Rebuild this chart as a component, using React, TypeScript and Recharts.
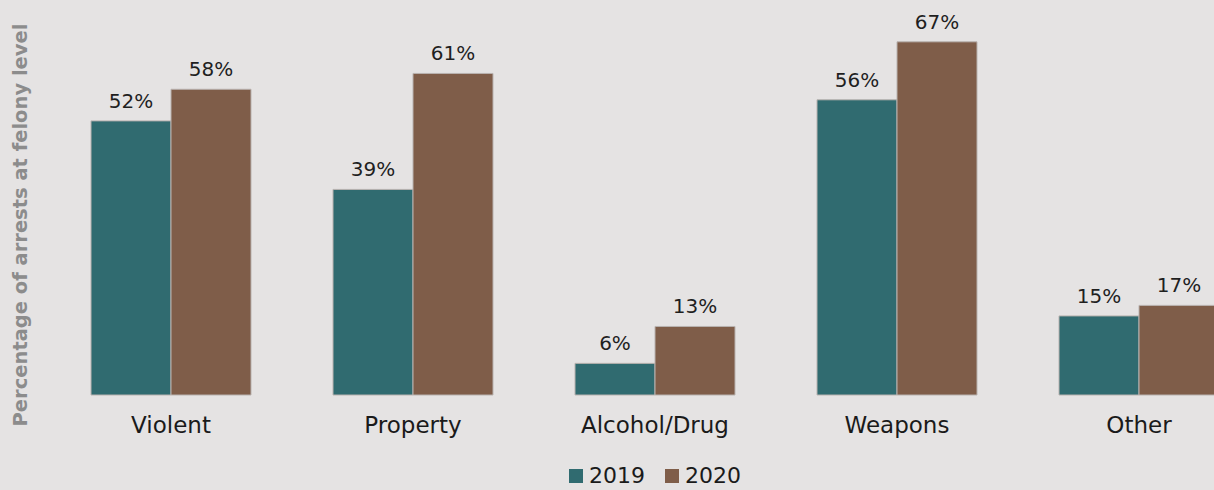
import { BarChart, Bar, XAxis, YAxis, Legend, LabelList } from 'recharts';

const categories = ['Violent', 'Property', 'Alcohol/Drug', 'Weapons', 'Other'];
const values2019 = [52, 39, 6, 56, 15];
const values2020 = [58, 61, 13, 67, 17];
const years = ['2019', '2020'];

const colors = { y2019: '#306b70', y2020: '#7f5d49' };
const FONT = '"DejaVu Sans", sans-serif';

const data = categories.map((name, i) => ({
  name,
  y2019: values2019[i],
  y2020: values2020[i],
}));

const LegendContent = () => (
  <div
    style={{
      height: 55,
      display: 'flex',
      justifyContent: 'center',
      alignItems: 'flex-end',
      fontFamily: FONT,
      fontSize: 22,
      color: '#1a1a1a',
      paddingBottom: 2,
      boxSizing: 'border-box',
    }}
  >
    {years.map((y, i) => (
      <div key={y} style={{ display: 'flex', alignItems: 'center', marginLeft: i ? 20 : 0 }}>
        <span
          style={{
            width: 14,
            height: 14,
            background: i ? colors.y2020 : colors.y2019,
            display: 'inline-block',
            marginRight: 6,
          }}
        />
        <span>{y}</span>
      </div>
    ))}
  </div>
);

const YLabel = () => (
  <text
    x={0}
    y={0}
    transform="translate(27, 225) rotate(-90)"
    textAnchor="middle"
    fontFamily={FONT}
    fontWeight="bold"
    fontSize={19.5}
    fill="#8c8c8c"
  >
    Percentage of arrests at felony level
  </text>
);

export default function App() {
  return (
    <div
      style={{
        position: 'absolute',
        left: 0,
        top: 0,
        width: 1214,
        height: 490,
        overflow: 'hidden',
        background: '#e5e3e3',
      }}
    >
      <BarChart
        width={1300}
        height={490}
        data={data}
        margin={{ top: 26, right: 40, left: 50, bottom: 0 }}
        barCategoryGap={41}
        barGap={0}
      >
        <XAxis
          dataKey="name"
          axisLine={false}
          tickLine={false}
          height={40}
          tickMargin={16}
          tick={{ fontSize: 23, fill: '#1a1a1a', fontFamily: FONT }}
          interval={0}
        />
        <YAxis hide domain={[0, 70]} />
        <Legend verticalAlign="bottom" content={<LegendContent />} />
        <Bar dataKey="y2019" fill={colors.y2019} stroke="#b9b3b0" strokeWidth={1} isAnimationActive={false}>
          <LabelList
            dataKey="y2019"
            position="top"
            offset={13}
            formatter={(v: number) => `${v}%`}
            style={{ fontSize: 20, fill: '#1f1f1f', fontFamily: FONT }}
          />
        </Bar>
        <Bar dataKey="y2020" fill={colors.y2020} stroke="#b9b3b0" strokeWidth={1} isAnimationActive={false}>
          <LabelList
            dataKey="y2020"
            position="top"
            offset={13}
            formatter={(v: number) => `${v}%`}
            style={{ fontSize: 20, fill: '#1f1f1f', fontFamily: FONT }}
          />
        </Bar>
        <YLabel />
      </BarChart>
    </div>
  );
}
